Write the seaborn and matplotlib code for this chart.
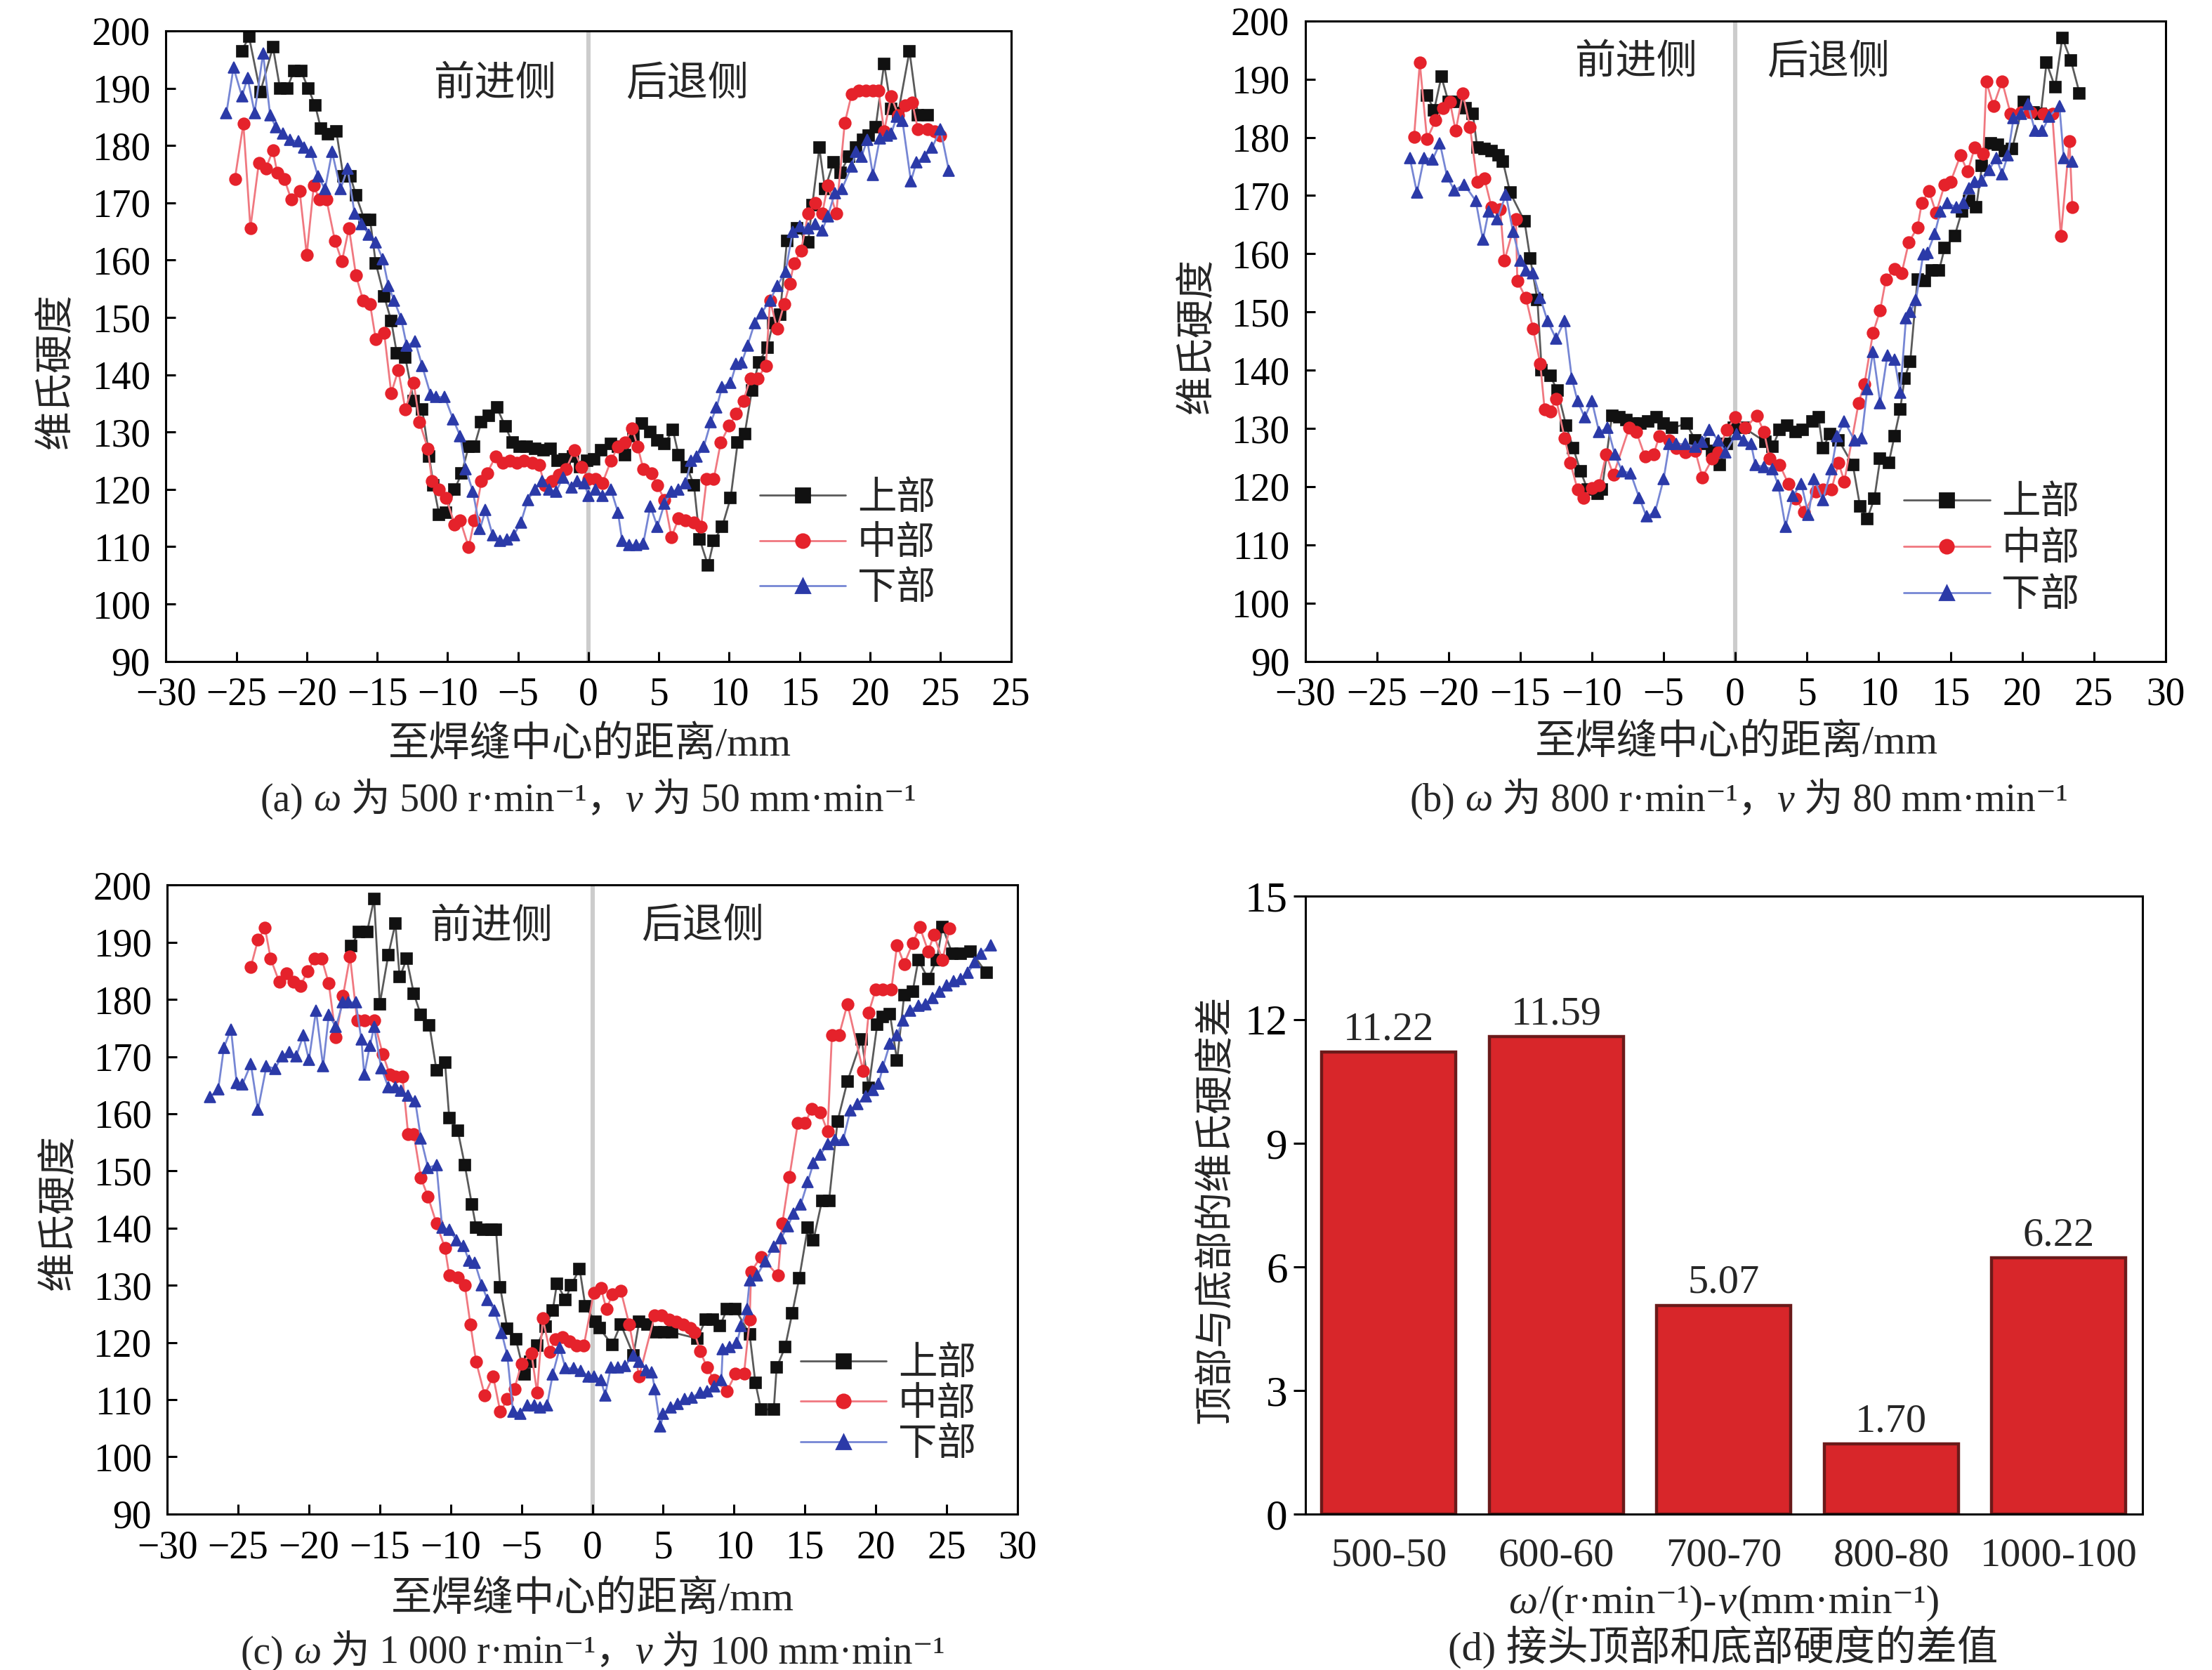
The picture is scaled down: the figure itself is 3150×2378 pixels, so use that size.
import numpy as np
import pandas as pd
import matplotlib
matplotlib.use("Agg")
import matplotlib.pyplot as plt
from matplotlib.lines import Line2D
import seaborn as sns

sns.set_theme(style="white")
FONTS = ["Liberation Serif", "Noto Sans CJK SC", "DejaVu Sans"]
plt.rcParams["font.family"] = FONTS
plt.rcParams["axes.unicode_minus"] = True

# ---------------- data ----------------
SERIES = ["上部", "中部", "下部"]

# (a) 500 r/min, 50 mm/min
A_TOP_X = [-24.6, -24.1, -23.3, -22.4, -21.9, -21.4, -20.9, -20.4, -19.9, -19.4, -19.0, -18.5, -17.9, -17.4,
           -16.9, -16.5, -15.9, -15.5, -15.1, -14.5, -14.0, -13.6, -13.0, -12.4, -11.8, -11.3, -11.0, -10.6,
           -10.1, -9.5, -9.0, -8.5, -8.1, -7.6, -7.1, -6.5, -5.9, -5.4, -4.9, -4.4, -3.8, -3.2, -2.7, -2.2,
           -1.7, -1.1, -0.6, -0.1, 0.4, 0.9, 1.6, 2.1, 2.6, 3.2, 3.8, 4.4, 4.9, 5.4, 6.0, 6.4, 7.0, 7.5,
           7.9, 8.5, 8.9, 9.5, 10.1, 10.6, 11.1, 11.6, 12.1, 12.7, 13.1, 13.6, 14.1, 14.8, 15.6, 15.9, 16.4,
           16.8, 17.4, 17.9, 18.5, 19.0, 19.5, 19.9, 20.4, 21.0, 21.5, 22.0, 22.8, 23.4, 24.1]
A_TOP_Y = [196.5, 199.0, 189.3, 197.2, 190.0, 190.0, 193.0, 193.0, 190.0, 187.0, 183.0, 182.0, 182.5, 174.6,
           174.6, 171.3, 167.0, 167.0, 159.5, 153.7, 149.4, 143.7, 143.0, 135.4, 134.0, 125.7, 120.7, 115.6,
           116.0, 120.0, 122.8, 127.5, 127.5, 131.8, 132.9, 134.3, 131.0, 128.2, 127.5, 127.5, 127.1, 126.8,
           127.1, 125.0, 125.3, 125.7, 123.9, 125.0, 125.3, 126.8, 127.9, 127.5, 126.0, 129.3, 131.5, 130.0,
           128.6, 127.9, 130.4, 126.0, 123.9, 120.7, 111.3, 106.7, 111.0, 113.5, 118.5, 128.2, 129.7, 137.2,
           142.2, 144.7, 149.0, 150.5, 163.4, 165.6, 163.1, 169.6, 179.6, 172.4, 177.1, 175.3, 178.1, 179.6,
           181.0, 181.7, 183.2, 194.3, 186.4, 185.7, 196.5, 185.3, 185.3]
A_MID_X = [-25.1, -24.5, -24.0, -23.4, -22.9, -22.4, -22.1, -21.6, -21.1, -20.5, -20.0, -19.5, -19.1, -18.6,
           -18.0, -17.5, -17.0, -16.5, -16.0, -15.5, -15.1, -14.5, -14.0, -13.5, -13.0, -12.4, -12.0, -11.4,
           -11.1, -10.6, -10.1, -9.5, -9.1, -8.5, -8.1, -7.6, -7.2, -6.6, -6.1, -5.6, -5.1, -4.6, -4.0, -3.5,
           -3.1, -2.6, -2.1, -1.6, -1.0, -0.5, 0.0, 0.5, 1.0, 1.6, 2.1, 2.6, 3.1, 3.5, 3.9, 4.5, 4.9, 5.4,
           5.9, 6.4, 6.9, 7.5, 8.0, 8.4, 8.9, 9.4, 10.0, 10.5, 11.0, 11.5, 12.0, 12.6, 12.9, 13.4, 13.9,
           14.3, 14.6, 15.1, 15.6, 16.1, 16.6, 17.0, 17.6, 18.2, 18.7, 19.2, 19.7, 20.2, 20.6, 21.0, 21.5,
           22.0, 22.5, 23.0, 23.4, 24.1, 24.6, 25.0]
A_MID_Y = [174.2, 183.8, 165.6, 177.0, 176.0, 179.2, 175.3, 174.2, 170.6, 172.0, 160.9, 173.0, 170.6, 170.6,
           163.4, 159.8, 165.6, 157.3, 153.0, 152.3, 146.2, 147.3, 136.8, 140.8, 134.0, 138.6, 131.8, 127.1,
           121.4, 120.0, 118.5, 113.9, 114.6, 109.9, 114.6, 121.4, 122.8, 125.7, 124.6, 125.0, 124.6, 125.0,
           124.6, 124.3, 120.7, 121.4, 122.5, 123.5, 126.8, 123.9, 121.8, 121.8, 121.1, 125.0, 127.5, 128.2,
           130.7, 127.5, 123.5, 122.8, 120.7, 118.2, 111.7, 114.9, 114.6, 114.2, 113.5, 121.8, 121.8, 128.2,
           131.1, 133.2, 135.4, 139.4, 139.4, 141.5, 153.0, 148.0, 152.3, 155.9, 159.5, 161.6, 168.1, 170.0,
           168.1, 173.1, 168.1, 183.9, 189.0, 189.6, 189.6, 189.6, 189.6, 182.5, 188.6, 185.3, 187.0, 187.5,
           182.8, 182.8, 182.5, 181.7]
A_BOT_X = [-25.7, -25.2, -24.6, -24.2, -23.7, -23.1, -22.6, -22.2, -21.7, -21.2, -20.6, -20.2, -19.7, -19.2,
           -18.7, -18.2, -17.6, -17.1, -16.6, -16.1, -15.6, -15.1, -14.6, -14.2, -13.8, -13.3, -12.9, -12.3,
           -11.8, -11.2, -10.8, -10.2, -9.6, -9.1, -8.7, -8.2, -7.7, -7.3, -6.8, -6.3, -5.8, -5.3, -4.8, -4.3,
           -3.8, -3.3, -2.8, -2.3, -1.8, -1.2, -0.8, -0.3, 0.0, 0.5, 1.0, 1.6, 2.1, 2.4, 2.9, 3.4, 3.9, 4.4,
           4.9, 5.4, 5.9, 6.4, 6.9, 7.3, 7.7, 8.2, 8.7, 9.1, 9.5, 10.1, 10.5, 10.9, 11.3, 11.8, 12.3, 12.9,
           13.4, 14.0, 14.5, 15.0, 15.6, 16.1, 16.6, 17.0, 17.5, 18.0, 18.7, 19.0, 19.4, 19.8, 20.2, 20.7,
           21.2, 21.5, 21.9, 22.3, 22.9, 23.3, 23.9, 24.4, 25.0, 25.6]
A_BOT_Y = [185.7, 193.6, 188.6, 191.8, 185.7, 196.1, 185.3, 183.2, 182.1, 181.0, 180.7, 179.6, 178.9, 174.6,
           172.4, 178.9, 172.4, 176.0, 168.1, 166.3, 164.5, 163.1, 160.2, 155.5, 153.0, 149.8, 145.1, 145.8,
           141.5, 136.5, 136.1, 136.1, 132.2, 129.3, 123.5, 119.6, 113.1, 116.4, 112.0, 111.0, 111.3, 112.0,
           114.2, 118.2, 120.0, 121.4, 120.0, 119.6, 122.1, 120.3, 121.4, 121.1, 118.9, 120.0, 118.9, 120.0,
           116.0, 111.0, 110.3, 110.3, 110.6, 117.1, 113.5, 117.5, 119.6, 120.0, 121.1, 125.0, 125.7, 127.5,
           131.8, 134.3, 137.9, 138.6, 141.9, 142.2, 145.1, 149.0, 150.8, 153.0, 155.5, 158.0, 164.9, 165.9,
           165.6, 166.3, 165.2, 167.7, 171.7, 172.4, 176.4, 178.9, 178.1, 181.0, 174.9, 181.3, 181.7, 182.1,
           185.0, 184.3, 173.8, 177.1, 178.1, 179.6, 182.8, 175.6]

# (b) 800 r/min, 80 mm/min
B_TOP_X = [-21.5, -21.0, -20.5, -20.0, -19.4, -18.8, -18.3, -18.0, -17.5, -17.0, -16.5, -16.2, -15.7, -14.7,
           -14.3, -13.8, -13.5, -12.9, -12.4, -11.8, -11.3, -10.8, -10.3, -9.6, -9.3, -8.6, -8.1, -7.6, -7.1,
           -6.6, -6.1, -5.5, -5.0, -4.4, -3.4, -2.8, -2.2, -1.6, -1.1, -0.6, -0.1, 0.6, 2.1, 2.6, 3.1, 3.6,
           4.2, 4.7, 5.4, 5.8, 6.1, 6.6, 7.2, 8.2, 8.7, 9.2, 9.7, 10.1, 10.7, 11.1, 11.5, 11.8, 12.2, 12.7,
           13.2, 13.7, 14.2, 14.6, 15.3, 15.8, 16.3, 16.8, 17.2, 17.8, 18.3, 18.8, 19.3, 20.1, 20.8, 21.3,
           21.7, 22.3, 22.8, 23.4, 24.0]
B_TOP_Y = [187.2, 184.7, 190.4, 186.1, 186.1, 185.0, 184.0, 178.3, 178.0, 177.6, 176.9, 175.8, 170.5, 165.6,
           159.2, 152.1, 140.0, 139.0, 136.5, 130.5, 126.6, 122.7, 119.5, 118.8, 119.5, 132.2, 131.9, 131.5,
           130.8, 130.8, 131.2, 131.9, 130.8, 130.1, 130.8, 128.0, 127.3, 126.2, 123.7, 127.3, 130.1, 130.1,
           127.7, 126.9, 129.8, 130.5, 129.4, 129.8, 131.2, 131.9, 126.6, 129.1, 128.0, 123.7, 116.6, 114.5,
           118.0, 124.8, 124.1, 128.7, 133.3, 138.6, 141.5, 155.6, 155.3, 157.1, 157.1, 161.0, 163.1, 167.3,
           169.1, 168.0, 175.1, 179.0, 178.7, 177.6, 178.0, 186.1, 184.3, 184.0, 192.8, 188.6, 197.1, 193.2,
           187.6]
B_MID_X = [-22.4, -22.0, -21.5, -20.9, -20.4, -19.9, -19.5, -19.0, -18.5, -18.0, -17.5, -17.0, -16.4, -16.1,
           -15.3, -15.2, -14.6, -14.1, -13.6, -13.3, -12.9, -12.5, -11.9, -11.5, -11.0, -10.6, -10.0, -9.5,
           -9.0, -8.5, -7.4, -6.9, -6.3, -5.7, -5.3, -4.6, -4.1, -3.5, -2.8, -2.3, -1.6, -1.2, -0.6, 0.0,
           0.7, 1.5, 2.0, 2.4, 3.1, 3.7, 4.2, 4.8, 5.6, 6.1, 6.7, 7.2, 7.6, 8.6, 9.0, 9.6, 10.1, 10.5, 11.1,
           11.6, 12.1, 12.7, 13.0, 13.5, 14.0, 14.6, 15.0, 15.7, 16.2, 16.7, 17.3, 17.5, 18.0, 18.6, 19.2,
           19.9, 20.6, 21.5, 22.1, 22.7, 23.3, 23.5]
B_MID_Y = [180.1, 192.8, 179.7, 182.9, 185.0, 186.1, 181.1, 187.5, 181.8, 172.3, 173.0, 168.0, 167.7, 158.8,
           165.9, 155.3, 152.4, 147.1, 141.1, 133.3, 132.9, 135.1, 128.3, 124.1, 119.5, 118.1, 119.8, 120.2,
           125.5, 122.0, 130.1, 129.4, 125.2, 125.5, 128.7, 128.0, 126.6, 125.9, 126.2, 121.6, 124.8, 125.9,
           129.8, 131.9, 130.1, 132.2, 129.4, 124.8, 123.7, 120.5, 118.0, 115.6, 119.1, 119.5, 119.5, 124.1,
           120.9, 134.4, 137.6, 146.4, 150.3, 155.6, 157.4, 156.7, 162.0, 164.5, 168.7, 170.8, 167.0, 171.9,
           172.3, 176.9, 174.1, 178.3, 177.2, 189.6, 185.4, 189.6, 184.0, 184.3, 184.3, 184.0, 184.0, 163.1,
           179.4, 168.0]
B_BOT_X = [-22.7, -22.2, -21.7, -21.1, -20.6, -20.1, -19.6, -18.9, -18.1, -17.6, -17.2, -16.6, -16.0, -15.5,
           -15.0, -14.6, -14.1, -13.6, -13.1, -12.5, -11.9, -11.4, -11.0, -10.5, -10.0, -9.5, -8.9, -8.4,
           -7.9, -7.3, -6.7, -6.2, -5.6, -5.0, -4.6, -4.1, -3.5, -2.8, -2.3, -1.8, -1.2, -0.7, 0.1, 0.6,
           1.1, 1.4, 2.0, 2.6, 3.0, 3.5, 4.0, 4.6, 5.1, 5.5, 6.1, 6.7, 7.1, 7.6, 8.3, 8.8, 9.2, 9.6, 10.1,
           10.6, 11.1, 11.5, 11.9, 12.2, 12.6, 13.1, 13.4, 13.9, 14.3, 14.8, 15.4, 15.9, 16.3, 16.7, 17.2,
           17.7, 18.2, 18.6, 19.0, 19.4, 19.9, 20.4, 20.9, 21.4, 21.9, 22.6, 22.9, 23.5]
B_BOT_Y = [176.5, 170.5, 176.5, 176.2, 179.0, 173.3, 170.9, 171.9, 169.1, 162.4, 167.3, 165.9, 170.2, 163.8,
           158.8, 157.1, 156.7, 152.4, 148.5, 145.4, 148.5, 138.6, 134.7, 131.9, 134.7, 129.4, 130.1, 125.5,
           122.7, 122.3, 118.1, 114.9, 115.6, 121.3, 127.3, 127.3, 127.3, 126.9, 127.7, 129.8, 128.0, 125.9,
           129.1, 128.0, 127.3, 123.7, 123.4, 123.0, 120.2, 113.1, 118.4, 120.5, 115.2, 121.3, 117.7, 123.0,
           128.7, 131.2, 128.0, 128.3, 136.8, 143.2, 134.4, 142.5, 141.8, 136.1, 148.9, 150.0, 152.1, 159.9,
           160.2, 163.4, 167.3, 168.7, 168.0, 168.7, 171.2, 172.3, 172.6, 174.4, 176.5, 173.7, 176.9, 183.3,
           184.0, 185.7, 181.1, 181.1, 183.6, 185.4, 176.5, 175.8]

# (c) 1000 r/min, 100 mm/min
C_TOP_X = [-17.0, -16.5, -15.9, -15.4, -15.0, -14.4, -13.9, -13.6, -13.1, -12.6, -12.1, -11.5, -11.0, -10.4,
           -10.1, -9.5, -9.0, -8.5, -8.2, -7.7, -7.1, -6.8, -6.5, -6.0, -5.4, -4.8, -4.4, -3.9, -3.3, -2.8,
           -2.5, -1.9, -1.5, -0.9, -0.5, 0.2, 0.5, 1.4, 2.0, 2.9, 3.3, 3.9, 4.5, 5.1, 5.6, 7.4, 8.0, 8.5,
           9.0, 9.5, 10.1, 11.1, 11.5, 11.9, 12.8, 13.0, 13.6, 14.1, 14.6, 15.2, 15.6, 16.2, 16.7, 17.3, 18.0,
           19.0, 19.5, 20.1, 20.5, 21.0, 21.5, 22.0, 22.6, 23.0, 23.7, 24.3, 24.7, 25.4, 26.0, 26.7, 27.8]
C_TOP_Y = [189.3, 191.8, 191.8, 197.6, 179.2, 187.8, 193.3, 183.9, 187.1, 181.0, 177.3, 175.5, 167.6, 169.0,
           159.3, 157.1, 151.0, 144.1, 140.1, 139.7, 139.7, 139.7, 129.6, 122.4, 120.6, 114.4, 116.6, 119.5,
           122.8, 125.6, 130.3, 127.5, 130.0, 132.9, 126.4, 123.6, 122.5, 119.6, 123.2, 117.8, 123.6, 123.2,
           121.8, 121.8, 121.8, 120.7, 124.0, 124.0, 122.9, 125.8, 125.8, 121.4, 113.0, 108.3, 108.3, 115.6,
           119.2, 125.1, 131.3, 140.1, 137.9, 144.8, 144.8, 158.7, 165.7, 173.0, 164.6, 175.6, 177.0, 177.4,
           169.3, 180.7, 181.4, 186.9, 183.6, 186.9, 192.7, 188.0, 188.0, 188.4, 184.7]
C_MID_X = [-24.1, -23.6, -23.1, -22.7, -22.1, -21.6, -21.1, -20.6, -20.1, -19.6, -19.1, -18.6, -18.1, -17.6,
           -17.1, -16.6, -16.1, -15.4, -14.8, -14.3, -13.9, -13.4, -13.0, -12.6, -12.1, -11.6, -11.0, -10.4,
           -10.1, -9.5, -9.0, -8.6, -8.2, -7.6, -7.0, -6.5, -6.0, -5.5, -5.0, -4.3, -3.9, -3.5, -3.0, -2.6,
           -2.1, -1.6, -1.1, -0.6, 0.1, 0.6, 1.0, 1.4, 2.0, 2.6, 3.3, 4.4, 4.9, 5.4, 5.9, 6.4, 6.9, 7.2, 7.6,
           8.1, 8.6, 9.5, 10.1, 10.7, 11.1, 11.2, 11.9, 13.1, 13.4, 13.9, 14.5, 15.0, 15.5, 16.1, 16.6, 16.9,
           17.4, 18.0, 19.1, 19.5, 20.0, 20.5, 21.1, 21.5, 22.0, 22.6, 23.1, 23.7, 24.1, 24.7, 25.2]
C_MID_Y = [185.7, 190.4, 192.5, 187.1, 183.1, 184.6, 183.1, 182.4, 184.9, 187.1, 187.1, 182.8, 173.4, 180.6,
           187.5, 176.3, 176.3, 176.3, 170.5, 166.9, 166.5, 166.5, 156.4, 156.4, 148.8, 145.5, 140.8, 136.5,
           131.8, 131.4, 130.0, 123.1, 116.6, 110.8, 114.1, 107.9, 110.1, 111.9, 116.3, 118.1, 111.2, 124.2,
           118.4, 120.6, 121.0, 120.2, 119.5, 119.5, 128.7, 129.5, 125.8, 128.4, 129.1, 123.2, 114.1, 124.7,
           124.7, 124.0, 123.6, 123.2, 122.5, 121.8, 118.5, 115.6, 113.4, 111.5, 114.5, 114.5, 124.0, 132.4,
           135.0, 131.7, 140.8, 148.9, 158.4, 158.4, 160.9, 160.2, 156.9, 173.7, 173.7, 179.2, 167.5, 177.7,
           181.8, 181.8, 181.8, 189.5, 186.2, 189.8, 192.7, 188.4, 191.3, 186.9, 192.4]
C_BOT_X = [-27.0, -26.4, -26.0, -25.5, -25.1, -24.7, -24.1, -23.6, -23.0, -22.4, -21.9, -21.4, -20.9, -20.4,
           -20.0, -19.5, -19.0, -18.6, -18.1, -17.6, -17.2, -16.7, -16.3, -16.1, -15.7, -15.4, -14.9, -14.4,
           -13.9, -13.5, -13.0, -12.5, -12.1, -11.6, -11.0, -10.6, -10.1, -9.6, -9.1, -8.7, -8.3, -7.8, -7.4,
           -6.9, -6.4, -6.0, -5.6, -5.1, -4.6, -4.1, -3.7, -3.2, -2.8, -2.3, -1.9, -1.3, -0.8, -0.3, 0.1, 0.6,
           0.9, 1.3, 1.8, 2.3, 2.9, 3.3, 3.8, 4.2, 4.4, 4.8, 5.0, 5.5, 6.0, 6.5, 7.0, 7.6, 8.1, 8.6, 9.1, 9.2,
           9.7, 10.2, 10.5, 10.9, 11.1, 11.6, 12.2, 12.8, 13.3, 13.8, 14.2, 14.7, 15.2, 15.6, 16.1, 16.6,
           17.1, 17.7, 18.2, 18.7, 19.3, 19.8, 20.2, 20.5, 21.0, 21.5, 21.9, 22.4, 23.0, 23.5, 24.0, 24.5,
           25.0, 25.5, 26.0, 26.5, 27.0, 27.4, 28.1]
C_BOT_Y = [162.9, 164.3, 171.6, 174.8, 165.4, 165.1, 168.7, 160.7, 168.3, 167.9, 170.1, 170.8, 170.1, 173.7,
           169.4, 178.1, 168.3, 177.3, 175.2, 179.5, 179.5, 179.5, 173.0, 166.9, 171.9, 175.2, 168.0, 164.7,
           164.7, 164.0, 163.2, 162.2, 155.7, 150.6, 151.0, 140.1, 139.7, 137.9, 136.9, 134.3, 134.0, 130.0,
           127.5, 125.6, 121.7, 117.7, 107.9, 107.6, 109.0, 109.0, 108.7, 109.0, 114.4, 119.1, 115.5, 115.5,
           115.1, 114.1, 114.1, 113.4, 110.8, 115.6, 115.6, 115.9, 117.8, 116.7, 115.2, 114.8, 111.9, 105.3,
           107.5, 108.6, 109.3, 110.1, 110.4, 111.2, 111.5, 112.3, 113.4, 118.9, 119.2, 120.0, 122.9, 125.8,
           130.9, 131.7, 134.2, 136.8, 138.2, 140.4, 142.6, 144.1, 148.1, 151.4, 152.9, 154.7, 155.4, 155.4,
           160.6, 161.7, 163.1, 164.2, 165.3, 168.2, 172.3, 173.7, 176.3, 178.1, 178.9, 179.2, 180.3, 181.4,
           182.5, 183.2, 183.6, 184.7, 186.5, 188.0, 189.5]

# (d) top-bottom hardness difference
D_CATS = ["500-50", "600-60", "700-70", "800-80", "1000-100"]
D_VALS = [11.22, 11.59, 5.07, 1.70, 6.22]

X_TICKS = [-30, -25, -20, -15, -10, -5, 0, 5, 10, 15, 20, 25, 30]
X_LABELS_A = ["−30", "−25", "−20", "−15", "−10", "−5", "0", "5", "10", "15", "20", "25", "25"]
X_LABELS = ["−30", "−25", "−20", "−15", "−10", "−5", "0", "5", "10", "15", "20", "25", "30"]
Y_TICKS = list(range(90, 201, 10))

# ---------------- style ----------------
MARK = {"上部": ("s", "#111111", "#5a5a5a"),
        "中部": ("o", "#e5222b", "#f07880"),
        "下部": ("^", "#2b3aa8", "#7686d4")}
FS = 20
MS = 6.0

fig = plt.figure(figsize=(15.75, 11.89), dpi=200)
ax_a = fig.add_axes([0.075, 0.604, 0.382, 0.3775])
ax_b = fig.add_axes([0.590, 0.604, 0.389, 0.3835])
ax_c = fig.add_axes([0.0756, 0.0934, 0.3844, 0.3766])
ax_d = fig.add_axes([0.590, 0.0934, 0.3786, 0.370])


def profile(ax, data, xlabels, sides, leg_anchor, leg_spacing):
    ax.axvline(0, color="#cccccc", lw=2.2, zorder=0)
    for name, (xs, ys) in zip(SERIES, data):
        m, mc, lc = MARK[name]
        sns.lineplot(x=xs, y=ys, ax=ax, estimator=None, sort=False, color=lc, lw=1.0,
                     marker=m, markersize=MS, markerfacecolor=mc, markeredgecolor=mc,
                     markeredgewidth=0.6)
    ax.set_xlim(-30, 30)
    ax.set_ylim(90, 200)
    ax.set_xticks(X_TICKS)
    ax.set_xticklabels(xlabels)
    ax.set_yticks(Y_TICKS)
    ax.tick_params(direction="in", length=5, width=1.1, labelsize=FS, pad=8,
                   bottom=True, left=True, top=False, right=False, colors="black")
    for s in ax.spines.values():
        s.set_color("black")
        s.set_linewidth(1.1)
    ax.text(sides[0], sides[2], "前进侧", ha="center", va="center", fontsize=FS + 1)
    ax.text(sides[1], sides[2], "后退侧", ha="center", va="center", fontsize=FS + 1)
    handles = [Line2D([], [], color=MARK[n][2], lw=1.0, marker=MARK[n][0], markersize=MS + 1,
                      markerfacecolor=MARK[n][1], markeredgecolor=MARK[n][1]) for n in SERIES]
    ax.legend(handles, SERIES, loc="lower left", bbox_to_anchor=leg_anchor, frameon=False,
              fontsize=FS, handlelength=2.2, handletextpad=0.3, labelspacing=leg_spacing,
              borderpad=0, borderaxespad=0)
    ax.set_xlabel("")
    ax.set_ylabel("")


profile(ax_a, [(A_TOP_X, A_TOP_Y), (A_MID_X, A_MID_Y), (A_BOT_X, A_BOT_Y)], X_LABELS_A,
        (-6.6, 7.0, 190.6), (0.703, 0.085), 0.22)
profile(ax_b, [(B_TOP_X, B_TOP_Y), (B_MID_X, B_MID_Y), (B_BOT_X, B_BOT_Y)], X_LABELS,
        (-6.9, 6.5, 192.7), (0.696, 0.073), 0.25)
profile(ax_c, [(C_TOP_X, C_TOP_Y), (C_MID_X, C_MID_Y), (C_BOT_X, C_BOT_Y)], X_LABELS,
        (-7.1, 7.8, 192.6), (0.745, 0.08), 0.1)

# (d) bar chart
sns.barplot(x=D_CATS, y=D_VALS, ax=ax_d, color="#d8262a", saturation=1, width=0.8,
            edgecolor="#6b1a1a", linewidth=1.6)
ax_d.set_ylim(0, 15)
ax_d.set_xlim(-0.5, 4.5)
ax_d.set_yticks([0, 3, 6, 9, 12, 15])
ax_d.tick_params(axis="y", direction="out", length=6, width=1.1, labelsize=FS + 2, pad=3,
                 left=True, colors="black")
ax_d.tick_params(axis="x", length=0, labelsize=FS + 1, pad=12)
for s in ax_d.spines.values():
    s.set_color("black")
    s.set_linewidth(1.1)
ax_d.bar_label(ax_d.containers[0], labels=[f"{v:.2f}" for v in D_VALS], padding=2, fontsize=FS + 1)
ax_d.set_xlabel("")
ax_d.set_ylabel("")

# axis titles
fig.text(0.0256, 0.778, "维氏硬度", rotation=90, ha="center", va="center", fontsize=FS)
fig.text(0.5417, 0.799, "维氏硬度", rotation=90, ha="center", va="center", fontsize=FS)
fig.text(0.027, 0.274, "维氏硬度", rotation=90, ha="center", va="center", fontsize=FS)
fig.text(0.550, 0.276, "顶部与底部的维氏硬度差", rotation=90, ha="center", va="center", fontsize=FS)
fig.text(0.2667, 0.5543, "至焊缝中心的距离/mm", ha="center", va="center", fontsize=FS + 1)
fig.text(0.785, 0.5553, "至焊缝中心的距离/mm", ha="center", va="center", fontsize=FS + 1)
fig.text(0.268, 0.0424, "至焊缝中心的距离/mm", ha="center", va="center", fontsize=FS + 1)


def rich_text(xc, y, parts, size):
    """draw text pieces side by side, italic where asked, centred on xc"""
    r = fig.canvas.get_renderer()
    arts = []
    for s, italic, gap in parts:
        t = fig.text(0, y, s, fontsize=size, fontstyle="italic" if italic else "normal",
                     ha="left", va="baseline")
        arts.append((t, gap))
    widths = [t.get_window_extent(r).width for t, _ in arts]
    em = size * fig.dpi / 72
    W = fig.bbox.width
    total = sum(widths) + sum(g * em for _, g in arts)
    x = xc * W - total / 2
    for (t, g), w in zip(arts, widths):
        x += g * em
        t.set_x(x / W)
        x += w


rich_text(0.266, 0.5145, [("(a)", False, 0), ("ω", True, 0.25), ("为 500 r·min⁻¹，", False, 0.25),
                          ("v", True, 0.0), ("为 50 mm·min⁻¹", False, 0.25)], FS)
rich_text(0.786, 0.5145, [("(b)", False, 0), ("ω", True, 0.25), ("为 800 r·min⁻¹，", False, 0.25),
                          ("v", True, 0.0), ("为 80 mm·min⁻¹", False, 0.25)], FS)
rich_text(0.268, 0.004, [("(c)", False, 0), ("ω", True, 0.25), ("为 1 000 r·min⁻¹，", False, 0.25),
                         ("v", True, 0.0), ("为 100 mm·min⁻¹", False, 0.25)], FS)
rich_text(0.7795, 0.034, [("ω", True, 0), ("/(r·min⁻¹)-", False, 0.05), ("v", True, 0.02),
                          ("(mm·min⁻¹)", False, 0.05)], FS + 1)
fig.text(0.779, 0.006, "(d) 接头顶部和底部硬度的差值", ha="center", va="baseline", fontsize=FS + 1)

fig.savefig("out.png", dpi=200)
